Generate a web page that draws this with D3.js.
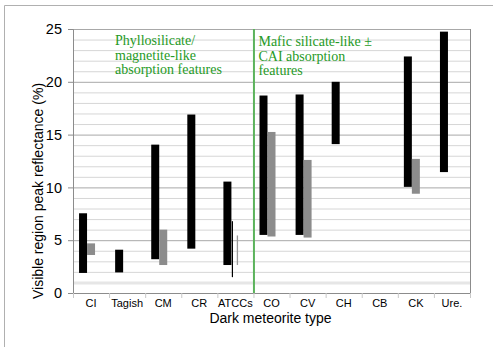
<!DOCTYPE html>
<html>
<head>
<meta charset="utf-8">
<script src="https://cdn.jsdelivr.net/npm/d3@7"></script>
<style>
  body { margin: 0; background: #fff; }
  text { font-family: "Liberation Sans", Arial, sans-serif; }
  .note { font-family: "Liberation Serif", "Times New Roman", serif; fill: #269a26; }
</style>
</head>
<body>
<div id="chartdiv"></div>
<script>
// meteorite groups on the x axis
const categories = ["CI", "Tagish", "CM", "CR", "ATCCs", "CO", "CV", "CH", "CB", "CK", "Ure."];
// black bars: full range of visible peak reflectance
const blackLow  = [1.9, 1.95, 3.2, 4.2, 2.65, 5.5, 5.5, 14.1, null, 10.05, 11.45];
const blackHigh = [7.55, 4.1, 14.05, 16.9, 10.55, 18.7, 18.8, 20.0, null, 22.4, 24.75];
// grey bars: second range
const grayLow  = [3.6, null, 2.65, null, null, 5.35, 5.25, null, null, 9.4, null];
const grayHigh = [4.7, null, 6.0, null, null, 15.25, 12.6, null, null, 12.7, null];
// thin range lines (ATCCs only)
const thinCats = ["ATCCs"];
const thinBlackLow = [1.5], thinBlackHigh = [6.8];
const thinGrayLow = [2.65], thinGrayHigh = [5.45];
const yTicks = [0, 5, 10, 15, 20, 25];
const yMinor = d3.range(1, 25).filter(v => v % 5 !== 0);

const W = 493, H = 347;
const margin = { top: 29, right: 23, bottom: 54, left: 73 };
const width = W - margin.left - margin.right;
const height = H - margin.top - margin.bottom;

const svg = d3.select("#chartdiv").append("svg")
  .attr("width", W)
  .attr("height", H);

// outer frame (only top and left edges are visible in the picture)
svg.append("path")
  .attr("d", "M4.5," + H + "V5.5H" + W)
  .attr("fill", "none")
  .attr("stroke", "#b0b0b0");

const g = svg.append("g")
  .attr("transform", "translate(" + margin.left + "," + margin.top + ")");

const x = d3.scaleBand().domain(categories).range([0, width]);
const y = d3.scaleLinear().domain([0, 25]).range([height, 0]);
const cx = c => x(c) + x.bandwidth() / 2;
const barW = 8;

// minor grid
g.selectAll(".minor").data(yMinor).enter().append("line")
  .attr("x1", 0).attr("x2", width)
  .attr("y1", d => y(d) + 0.5).attr("y2", d => y(d) + 0.5)
  .attr("stroke", d => d === 1 ? "#e6e6e6" : "#d6d6d6")
  .attr("stroke-width", d => d === 1 ? 3 : 1);

// major grid
g.selectAll(".major").data(yTicks.slice(1)).enter().append("line")
  .attr("x1", 0).attr("x2", width)
  .attr("y1", d => y(d) + 0.5).attr("y2", d => y(d) + 0.5)
  .attr("stroke", "#a8a8a8");

// plot border right
g.append("line")
  .attr("x1", width + 0.5).attr("x2", width + 0.5)
  .attr("y1", 0).attr("y2", height)
  .attr("stroke", "#8c8c8c");

// y axis
const yAxis = d3.axisLeft(y).tickValues(yTicks).tickSize(5).tickPadding(6);
const ya = g.append("g").call(yAxis);
ya.select(".domain").attr("stroke", "#8c8c8c");
ya.selectAll(".tick line").attr("stroke", "#8c8c8c");
ya.selectAll("text").attr("font-size", 14.5).attr("fill", "#000");

// x axis with ticks at the band edges
const xa = g.append("g").attr("transform", "translate(0," + height + ")");
xa.append("line").attr("x1", 0).attr("x2", width).attr("y1", 0.5).attr("y2", 0.5)
  .attr("stroke", "#8c8c8c");
xa.selectAll(".xt").data(categories.concat(["end"])).enter().append("line")
  .attr("x1", (d, i) => i * x.bandwidth() + 0.5)
  .attr("x2", (d, i) => i * x.bandwidth() + 0.5)
  .attr("y1", 0).attr("y2", 5)
  .attr("stroke", "#c8c8c8");
xa.selectAll(".xl").data(categories).enter().append("text")
  .attr("x", d => cx(d))
  .attr("y", 14)
  .attr("text-anchor", "middle")
  .attr("font-size", 11)
  .text(d => d);

// black bars
const blackData = categories.map((c, i) => ({ c, lo: blackLow[i], hi: blackHigh[i] })).filter(d => d.lo != null);
g.selectAll(".bb").data(blackData).enter().append("rect")
  .attr("x", d => cx(d.c) - 12)
  .attr("width", barW)
  .attr("y", d => y(d.hi))
  .attr("height", d => y(d.lo) - y(d.hi))
  .attr("fill", "#000");

// grey bars
const grayData = categories.map((c, i) => ({ c, lo: grayLow[i], hi: grayHigh[i] })).filter(d => d.lo != null);
g.selectAll(".gb").data(grayData).enter().append("rect")
  .attr("x", d => cx(d.c) - 12 + barW)
  .attr("width", barW)
  .attr("y", d => y(d.hi))
  .attr("height", d => y(d.lo) - y(d.hi))
  .attr("fill", "#8c8c8c");

// thin range lines
g.selectAll(".tb").data(thinCats).enter().append("line")
  .attr("x1", d => cx(d) - 3).attr("x2", d => cx(d) - 3)
  .attr("y1", (d, i) => y(thinBlackHigh[i])).attr("y2", (d, i) => y(thinBlackLow[i]))
  .attr("stroke", "#000").attr("stroke-width", 1.2);
g.selectAll(".tg").data(thinCats).enter().append("line")
  .attr("x1", d => cx(d) + 2).attr("x2", d => cx(d) + 2)
  .attr("y1", (d, i) => y(thinGrayHigh[i])).attr("y2", (d, i) => y(thinGrayLow[i]))
  .attr("stroke", "#999").attr("stroke-width", 1.3);

// green divider between ATCCs and CO
const divX = x("CO");
g.append("line")
  .attr("x1", divX + 0.5).attr("x2", divX + 0.5)
  .attr("y1", 0).attr("y2", height)
  .attr("stroke", "#5cb35c").attr("stroke-width", 2);

// annotations
const leftNote = ["Phyllosilicate/", "magnetite-like", "absorption features"];
const rightNote = ["Mafic silicate-like \u00b1", "CAI absorption", "features"];
g.append("text").attr("class", "note").attr("font-size", 14)
  .selectAll("tspan").data(leftNote).enter().append("tspan")
  .attr("x", x("CI") + 42).attr("y", (d, i) => 16 + i * 14.6).text(d => d);
g.append("text").attr("class", "note").attr("font-size", 14)
  .selectAll("tspan").data(rightNote).enter().append("tspan")
  .attr("x", divX + 5).attr("y", (d, i) => 17.3 + i * 14.3).text(d => d);

// axis titles
svg.append("text")
  .attr("x", margin.left + width / 2 - 1)
  .attr("y", 323)
  .attr("text-anchor", "middle")
  .attr("font-size", 14)
  .text("Dark meteorite type");
svg.append("text")
  .attr("transform", "translate(43," + (margin.top + height / 2 + 30) + ") rotate(-90)")
  .attr("text-anchor", "middle")
  .attr("font-size", 14)
  .text("Visible region peak reflectance (%)");
</script>
</body>
</html>
